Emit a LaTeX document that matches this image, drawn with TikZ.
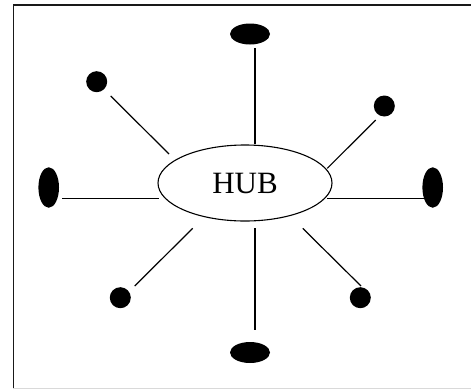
\documentclass[tikz,border=0pt]{standalone}
\usepackage{fontspec}
\setmainfont{Liberation Serif}
\usetikzlibrary{shapes.geometric}
\begin{document}
\begin{tikzpicture}[x=1pt,y=-1pt,
  conn/.style={line width=1.2pt,line cap=butt},
  blob/.style={ellipse,fill=black,draw=none,inner sep=0pt},
  dot/.style={circle,fill=black,draw=none,inner sep=0pt,minimum size=21pt},
  frameline/.style={line width=1.4pt,black!90}]
\useasboundingbox (0,0) rectangle (471,389);
% frame
\draw[frameline] (13.3,389) -- (13.3,4.9) -- (471,4.9);
\draw[black!15,line width=1pt] (13.3,388.3) -- (471,388.3);
% hub
\node[ellipse,draw,line width=1.1pt,minimum width=174pt,minimum height=76pt,inner sep=0pt,
  font=\fontsize{31}{31}\selectfont] (hub) at (245,183) {HUB};
% end nodes
\node[blob,minimum width=40pt,minimum height=21pt] (top) at (250,34) {};
\node[blob,minimum width=40pt,minimum height=21pt] (bottom) at (250,352.5) {};
\node[blob,minimum width=20.6pt,minimum height=40.5pt] (left) at (48.7,187.5) {};
\node[blob,minimum width=20.6pt,minimum height=40.5pt] (right) at (432.7,187.5) {};
\node[dot] (tl) at (96.7,81.7) {};
\node[dot] (tr) at (384.3,106) {};
\node[dot] (bl) at (120.3,297.7) {};
\node[dot] (br) at (360.3,297.7) {};
% connector end points
\coordinate (top-a) at (255,48);    \coordinate (top-b) at (255,144);
\coordinate (bot-a) at (255,228);   \coordinate (bot-b) at (255,330);
\coordinate (left-a) at (62,198.7); \coordinate (left-b) at (159,198.7);
\coordinate (right-a) at (327,198.7); \coordinate (right-b) at (425,198.7);
\coordinate (tl-a) at (110.7,96);   \coordinate (tl-b) at (169,154);
\coordinate (tr-a) at (375.7,120);  \coordinate (tr-b) at (327.3,168.3);
\coordinate (bl-a) at (192.7,228.3); \coordinate (bl-b) at (134.7,286);
\coordinate (br-a) at (302.7,228.3); \coordinate (br-b) at (361,286);
% connectors
\draw[conn] (top-a) -- (top-b);
\draw[conn] (bot-a) -- (bot-b);
\draw[conn] (left-a) -- (left-b);
\draw[conn] (right-a) -- (right-b);
\draw[conn] (tl-a) -- (tl-b);
\draw[conn] (tr-a) -- (tr-b);
\draw[conn] (bl-a) -- (bl-b);
\draw[conn] (br-a) -- (br-b);
\end{tikzpicture}
\end{document}
